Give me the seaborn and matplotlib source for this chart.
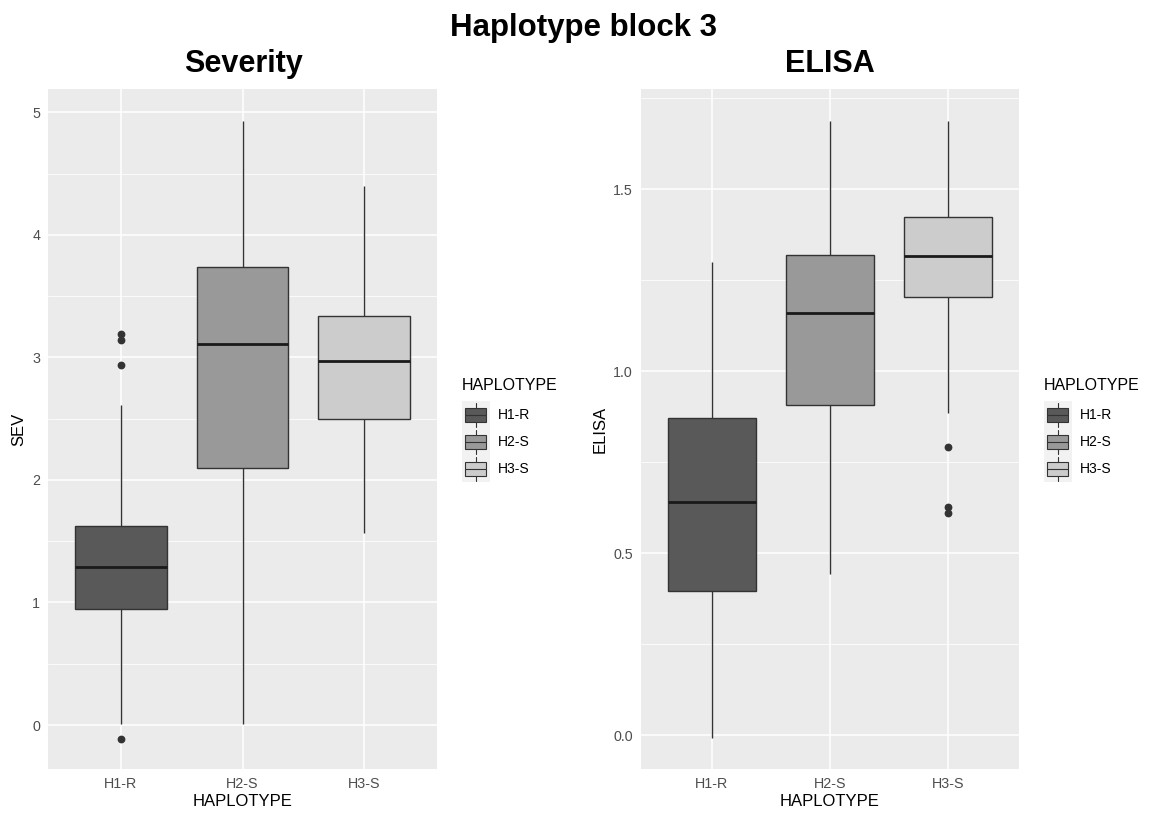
import numpy as np
import pandas as pd
import matplotlib
matplotlib.use("Agg")
import matplotlib.pyplot as plt
from matplotlib.patches import Rectangle, Patch
from matplotlib.lines import Line2D
from matplotlib.legend_handler import HandlerBase
from matplotlib.ticker import FixedLocator
import seaborn as sns

# ---------------- data ----------------
haplotypes = ["H1-R", "H2-S", "H3-S"]
fill_colors = ["#595959", "#999999", "#CCCCCC"]

# Severity (SEV) box statistics
sev_whislo = [0.01, 0.01, 1.57]
sev_q1 = [0.944, 2.095, 2.50]
sev_median = [1.29, 3.11, 2.97]
sev_q3 = [1.627, 3.74, 3.34]
sev_whishi = [2.61, 4.93, 4.40]
sev_outliers = [[3.19, 3.14, 2.94, -0.114], [], []]

# ELISA box statistics
elisa_whislo = [-0.008, 0.442, 0.885]
elisa_q1 = [0.396, 0.907, 1.203]
elisa_median = [0.640, 1.160, 1.317]
elisa_q3 = [0.8725, 1.318, 1.424]
elisa_whishi = [1.30, 1.688, 1.688]
elisa_outliers = [[], [], [0.791, 0.628, 0.609]]


def build_table(col, whislo, q1, med, q3, whishi, outliers, k=20):
    """Long table whose box statistics equal the values read above."""
    rows = []
    for i, h in enumerate(haplotypes):
        vals = ([whislo[i]] + [q1[i]] * k + [med[i]] * k + [q3[i]] * k
                + [whishi[i]] + list(outliers[i]))
        rows += [(h, v) for v in vals]
    return pd.DataFrame(rows, columns=["HAPLOTYPE", col])


sev_df = build_table("SEV", sev_whislo, sev_q1, sev_median, sev_q3,
                     sev_whishi, sev_outliers)
elisa_df = build_table("ELISA", elisa_whislo, elisa_q1, elisa_median,
                       elisa_q3, elisa_whishi, elisa_outliers)

# ---------------- style ----------------
sns.set_theme(style="darkgrid")
plt.rcParams["font.family"] = ["Liberation Sans", "DejaVu Sans"]
plt.rcParams["text.color"] = "black"

W, H = 1149, 816
fig = plt.figure(figsize=(W / 100, H / 100), dpi=100)
fig.patch.set_facecolor("white")

palette = dict(zip(haplotypes, fill_colors))
LINE = "#333333"


class BoxKey(HandlerBase):
    def create_artists(self, legend, orig_handle, xdescent, ydescent,
                       width, height, fontsize, trans):
        x0 = -xdescent
        y0 = -ydescent
        bg = Rectangle((x0, y0), width, height, facecolor="#F2F2F2",
                       edgecolor="none", transform=trans)
        bw = width * 0.75
        bh = height * 0.52
        bx = x0 + (width - bw) / 2
        by = y0 + (height - bh) / 2
        cx = x0 + width / 2
        box = Rectangle((bx, by), bw, bh,
                        facecolor=orig_handle.get_facecolor(),
                        edgecolor=LINE, linewidth=0.8, transform=trans)
        med = Line2D([bx, bx + bw], [by + bh / 2] * 2, color=LINE,
                     linewidth=0.8, transform=trans)
        w1 = Line2D([cx, cx], [y0 + height * 0.06, by], color=LINE,
                    linewidth=0.8, transform=trans)
        w2 = Line2D([cx, cx], [by + bh, y0 + height * 0.94], color=LINE,
                    linewidth=0.8, transform=trans)
        return [bg, box, med, w1, w2]


def style_axes(ax, ylim, major, minor, fmt):
    ax.set_facecolor("#EBEBEB")
    ax.set_xlim(-0.6, 2.6)
    ax.set_ylim(*ylim)
    ax.yaxis.set_major_locator(FixedLocator(major))
    ax.yaxis.set_minor_locator(FixedLocator(minor))
    ax.set_yticklabels([fmt.format(v) for v in major])
    ax.grid(which="major", color="white", linewidth=1.1)
    ax.grid(which="minor", axis="y", color="white", linewidth=0.55)
    ax.set_axisbelow(True)
    for s in ax.spines.values():
        s.set_visible(False)
    ax.tick_params(axis="both", which="major", length=3.2, width=0.9,
                   color=LINE, labelsize=10.3, labelcolor="#4D4D4D", pad=2.5)
    ax.tick_params(axis="y", which="minor", length=0)
    ax.set_xlabel("HAPLOTYPE", fontsize=12, color="black", labelpad=2)


def draw(ax, df, col):
    sns.boxplot(data=df, x="HAPLOTYPE", y=col, hue="HAPLOTYPE",
                order=haplotypes, hue_order=haplotypes, palette=palette,
                width=0.75, linecolor=LINE, linewidth=1.0, showcaps=False,
                saturation=1, legend=False, ax=ax,
                medianprops=dict(color="#1A1A1A", linewidth=2.0),
                flierprops=dict(marker="o", markersize=4.6,
                                markerfacecolor=LINE, markeredgecolor=LINE))


# Severity panel
ax1 = fig.add_axes([48 / W, 1 - 769 / H, 389 / W, 680 / H])
draw(ax1, sev_df, "SEV")
style_axes(ax1, (-0.359, 5.19), [0, 1, 2, 3, 4, 5],
           [0.5, 1.5, 2.5, 3.5, 4.5], "{:g}")
ax1.set_ylabel("SEV", fontsize=12, color="black", labelpad=4)

# ELISA panel
ax2 = fig.add_axes([641 / W, 1 - 769 / H, 378 / W, 680 / H])
draw(ax2, elisa_df, "ELISA")
style_axes(ax2, (-0.093, 1.775), [0.0, 0.5, 1.0, 1.5],
           [0.25, 0.75, 1.25, 1.75], "{:.1f}")
ax2.set_ylabel("ELISA", fontsize=12, color="black", labelpad=4)

# titles
fig.text(583 / W, 1 - 35.7 / H, "Haplotype block 3", ha="center",
         va="baseline", fontsize=22.5, fontweight="bold", color="black")
fig.text(243 / W, 1 - 72 / H, "Severity", ha="center", va="baseline",
         fontsize=22, fontweight="bold", color="black")
fig.text(830 / W, 1 - 72 / H, "ELISA", ha="center", va="baseline",
         fontsize=22, fontweight="bold", color="black")

# legends
handles = [Patch(facecolor=c) for c in fill_colors]
for ax, xpix in [(ax1, 462), (ax2, 1044)]:
    leg = ax.legend(handles, haplotypes, title="HAPLOTYPE",
                    handler_map={Patch: BoxKey()},
                    loc="upper left",
                    bbox_to_anchor=(xpix / W, 1 - 378 / H),
                    bbox_transform=fig.transFigure, frameon=False,
                    borderpad=0, borderaxespad=0, fontsize=10,
                    title_fontsize=11.5, alignment="left",
                    handlelength=2.0, handleheight=2.61, labelspacing=0,
                    handletextpad=0.6)
    leg._legend_box.sep = 6
    leg.get_title().set_color("black")
    for t in leg.get_texts():
        t.set_color("black")

fig.savefig("out.png", dpi=100, facecolor="white")
